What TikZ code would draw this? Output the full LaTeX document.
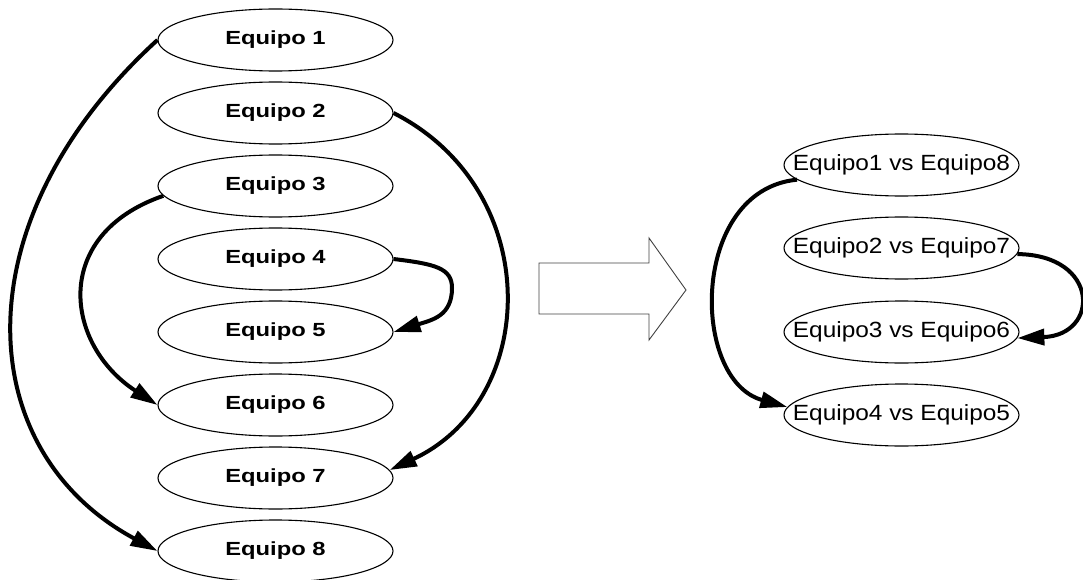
\documentclass[tikz,border=0pt]{standalone}
\usepackage{fontspec}
\usepackage{graphicx}
\setmainfont{Liberation Sans}
\usetikzlibrary{shapes.geometric,arrows.meta}
\newcommand{\wide}[2]{\makebox[0pt]{\scalebox{#1}[1]{#2}}}
\begin{document}
\begin{tikzpicture}[x=1pt,y=-1pt,
  oval/.style={ellipse,draw,line width=1.1pt,minimum width=235pt,minimum height=62pt,
    inner sep=0pt},
  team/.style={oval,font=\fontsize{19}{22}\selectfont\bfseries},
  pair/.style={oval,font=\fontsize{22}{26}\selectfont},
  link/.style={line width=4pt,-{Triangle[length=27pt,width=16pt]}},
  bigarrow/.style={line width=0.9pt,draw=black!75},
]
\useasboundingbox (0,0) rectangle (1083,580);

% the eight teams
\foreach \i/\y in {1/40,2/113,3/186,4/259,5/332,6/405,7/478,8/551}
  \node[team] (e\i) at (275.5,\y) {\wide{1.25}{Equipo \i}};

% the resulting pairings
\node[pair] (r1) at (901.5,165) {\wide{1.11}{Equipo1 vs Equipo8}};
\node[pair] (r2) at (901.5,248) {\wide{1.11}{Equipo2 vs Equipo7}};
\node[pair] (r3) at (901.5,332) {\wide{1.11}{Equipo3 vs Equipo6}};
\node[pair] (r4) at (901.5,415) {\wide{1.11}{Equipo4 vs Equipo5}};

% pairing links on the left
\draw[link] (e1.west) .. controls (-40,220) and (-30,450) .. (e8.west);
\draw[link] (e2.east) .. controls (545,190) and (540,400) .. (e7.4);
\draw[link] (e3.185) .. controls (50,235) and (65,345) .. (e6.west);
\draw[link] (e4.east) .. controls (435,264) and (452,268) .. (452,288)
  .. controls (452,316) and (432,320) .. (e5.east);

% transition arrow
\draw[bigarrow] (539,263) -- (649,263) -- (649,238) -- (686,290)
  -- (649,340) -- (649,314) -- (539,314) -- cycle;

% links on the right
\draw[link] (r1.188) .. controls (690,190) and (690,380) .. (r4.176);
\draw[link] (r2.-3) .. controls (1100,255) and (1100,335) .. (r3.-3);
\end{tikzpicture}
\end{document}
